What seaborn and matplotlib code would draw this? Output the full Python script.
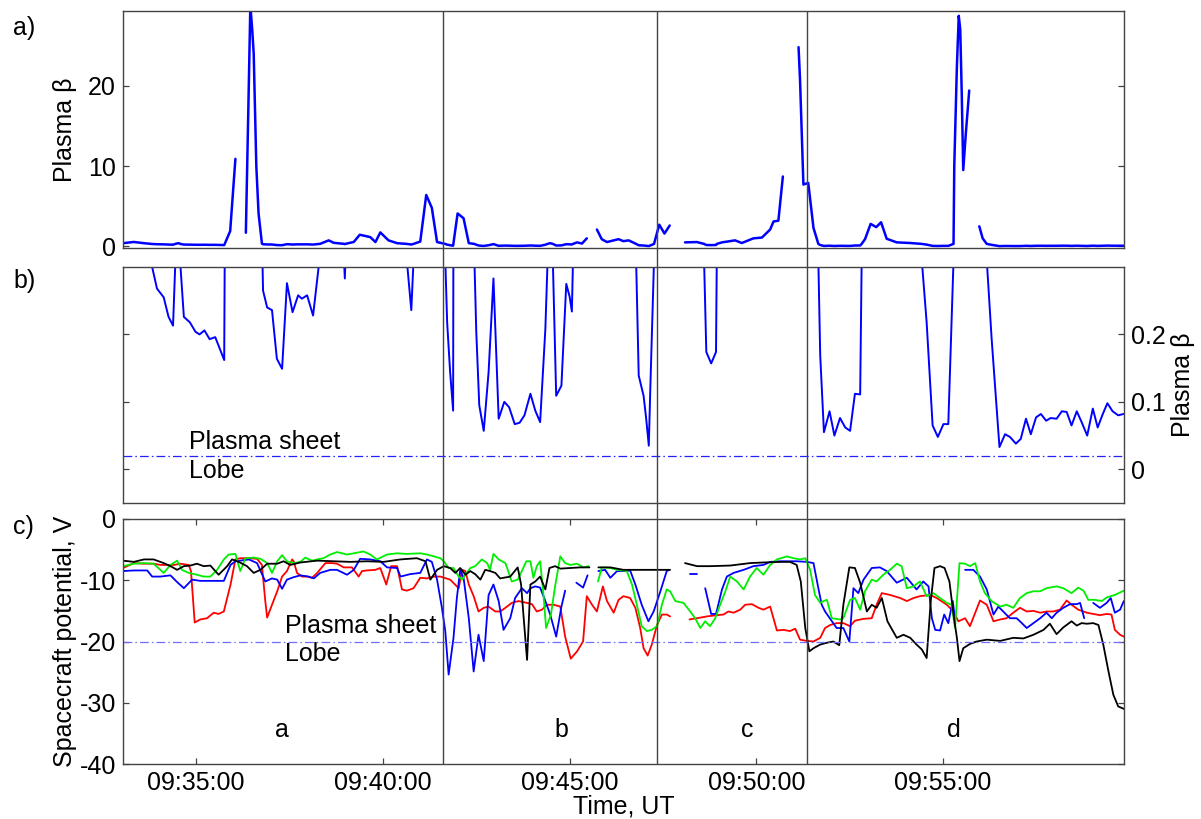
import numpy as np
import pandas as pd
import matplotlib
matplotlib.use('Agg')
import matplotlib.pyplot as plt
import seaborn as sns

nan = np.nan

# time in minutes after 09:00 UT, value
beta = [
    (33.04, 0.40), (33.33, 0.55), (33.60, 0.40), (33.82, 0.30), (33.95, 0.268), (34.13, 0.255),
    (34.26, 0.226), (34.38, 0.213), (34.47, 0.35), (34.53, 0.40), (34.58, 0.30), (34.67, 0.226),
    (34.83, 0.218), (34.98, 0.204), (35.09, 0.200), (35.22, 0.206), (35.36, 0.193), (35.51, 0.196),
    (35.75, 0.162), (35.91, 1.9), (36.05, 10.9), (36.18, nan),
    (36.33, 1.7), (36.40, 18.0), (36.45, 30.0), (36.50, 27.0), (36.54, 24.0), (36.61, 10.0),
    (36.67, 4.1), (36.76, 0.35), (36.79, 0.265), (36.90, 0.240), (37.03, 0.236), (37.16, 0.164),
    (37.30, 0.149), (37.43, 0.276), (37.58, 0.233), (37.73, 0.258), (37.83, 0.253), (37.97, 0.258),
    (38.13, 0.228), (38.32, 0.32), (38.55, 0.75), (38.68, 0.45), (38.95, 0.32), (38.98, 0.283),
    (39.01, 0.33), (39.22, 0.55), (39.38, 1.45), (39.66, 1.16), (39.80, 0.54), (39.93, 1.74),
    (40.15, 0.75), (40.38, 0.40), (40.64, 0.31), (40.76, 0.236), (40.82, 0.31), (41.00, 0.6),
    (41.16, 6.4), (41.31, 4.8), (41.45, 0.54), (41.67, 0.31), (41.72, 0.218), (41.80, 0.144),
    (41.88, 0.087), (42.00, 4.1), (42.16, 3.5), (42.30, 0.40), (42.45, 0.31), (42.50, 0.204),
    (42.58, 0.095), (42.70, 0.057), (42.83, 0.144), (42.96, 0.283), (43.10, 0.075), (43.25, 0.100),
    (43.38, 0.092), (43.53, 0.067), (43.66, 0.069), (43.79, 0.080), (43.95, 0.112), (44.08, 0.087),
    (44.21, 0.070), (44.35, 0.208), (44.41, 0.31), (44.48, 0.40), (44.55, 0.31), (44.64, 0.109),
    (44.78, 0.124), (44.91, 0.275), (45.00, 0.256), (45.06, 0.234), (45.09, 0.31), (45.20, 0.50),
    (45.33, 0.35), (45.46, 1.0), (45.60, nan),
    (45.73, 2.1), (45.86, 0.9), (46.00, 0.54), (46.31, 0.9), (46.44, 0.65), (46.58, 0.75),
    (46.78, 0.31), (46.85, 0.139), (46.98, 0.109), (47.05, 0.075), (47.12, 0.035), (47.16, 0.119),
    (47.26, 0.31), (47.40, 2.7), (47.54, 1.6), (47.68, 2.6), (47.87, nan),
    (48.09, 0.50), (48.41, 0.54), (48.60, 0.31), (48.66, 0.174), (48.79, 0.157), (48.92, 0.174),
    (48.94, 0.31), (49.08, 0.50), (49.43, 0.75), (49.61, 0.42), (49.92, 1.0), (50.15, 1.1),
    (50.37, 2.1), (50.46, 3.1), (50.59, 3.2), (50.71, 8.7), (50.90, nan),
    (51.13, 24.8), (51.17, 20.7), (51.26, 7.7), (51.39, 7.9), (51.53, 2.3), (51.66, 0.31),
    (51.71, 0.169), (51.81, 0.055), (51.96, 0.086), (52.09, 0.050), (52.24, 0.076), (52.38, 0.062),
    (52.51, 0.057), (52.64, 0.112), (52.78, 0.111), (52.82, 0.31), (52.91, 0.9), (53.06, 2.8),
    (53.21, 2.4), (53.34, 3.0), (53.49, 0.95), (53.76, 0.50), (54.12, 0.42), (54.43, 0.31),
    (54.56, 0.218), (54.72, 0.065), (54.86, 0.048), (55.01, 0.067), (55.14, 0.067), (55.28, 0.31),
    (55.30, 10.0), (55.37, 22.4), (55.42, 28.7), (55.46, 27.0), (55.50, 19.0), (55.54, 9.5),
    (55.61, 14.1), (55.70, 19.4), (55.81, nan),
    (55.97, 2.5), (56.06, 1.0), (56.17, 0.31), (56.30, 0.194), (56.51, 0.033), (56.66, 0.052),
    (56.79, 0.048), (56.95, 0.038), (57.08, 0.045), (57.22, 0.075), (57.35, 0.052), (57.49, 0.077),
    (57.62, 0.082), (57.76, 0.072), (57.88, 0.076), (58.04, 0.075), (58.18, 0.086), (58.31, 0.085),
    (58.44, 0.065), (58.58, 0.086), (58.71, 0.070), (58.86, 0.050), (59.01, 0.090), (59.14, 0.062),
    (59.27, 0.081), (59.40, 0.098), (59.54, 0.086), (59.69, 0.080), (59.83, 0.082),
]

pot_red = [
    (33.04, -8.0), (33.33, -7.2), (33.60, -7.3), (33.86, -7.3), (34.04, -7.5), (34.22, -7.5),
    (34.40, -7.5), (34.58, -7.3), (34.80, -7.5), (34.86, -8.5), (34.96, -16.9), (35.11, -16.4),
    (35.29, -16.2), (35.47, -15.3), (35.60, -15.5), (35.74, -15.1), (35.92, -10.7), (36.05, -6.6),
    (36.18, -6.4), (36.41, -6.4), (36.63, -6.5), (36.76, -7.5), (36.85, -13.4), (36.90, -16.1),
    (37.03, -14.0), (37.17, -11.8), (37.30, -9.4), (37.43, -8.5), (37.57, -6.6), (37.61, -6.9),
    (37.70, -8.8), (37.83, -9.4), (37.97, -9.4), (38.10, -9.6), (38.24, -8.8), (38.46, -7.2),
    (38.64, -7.2), (38.77, -7.3), (38.95, -7.9), (39.17, -7.9), (39.35, -9.4), (39.44, -8.5),
    (39.57, -8.4), (39.80, -8.3), (39.93, -8.0), (40.09, -10.7), (40.22, -7.7), (40.38, -7.7),
    (40.51, -11.5), (40.64, -11.7), (40.82, -11.3), (41.00, -9.6), (41.18, -9.7), (41.36, -9.4),
    (41.54, -9.4), (41.80, -9.9), (42.03, -11.3), (42.12, -8.3), (42.21, -8.5), (42.30, -10.7),
    (42.43, -12.6), (42.56, -15.1), (42.70, -14.5), (42.83, -14.3), (43.01, -15.1), (43.14, -15.1),
    (43.28, -14.5), (43.45, -13.7), (43.63, -13.4), (43.86, -13.7), (43.99, -13.9), (44.12, -15.1),
    (44.26, -14.8), (44.39, -14.0), (44.57, -14.0), (44.75, -14.3), (44.88, -19.2), (45.03, -22.8),
    (45.20, -21.6), (45.36, -20.0), (45.46, -12.6), (45.60, -14.0), (45.73, -15.1), (45.89, -11.0),
    (46.00, -13.4), (46.18, -15.3), (46.31, -13.2), (46.44, -12.6), (46.62, -12.9), (46.76, -14.5),
    (46.89, -17.8), (46.98, -21.1), (47.09, -22.3), (47.20, -20.5), (47.34, -17.3), (47.47, -15.6),
    (47.60, -15.6), (47.69, -15.9), (47.90, nan),
    (48.21, -16.4), (48.41, -16.2), (48.68, -15.9), (48.94, -15.7), (49.12, -15.6), (49.25, -15.1),
    (49.39, -15.3), (49.57, -14.8), (49.70, -14.0), (49.88, -13.9), (50.06, -14.5), (50.19, -14.8),
    (50.37, -14.3), (50.55, -18.2), (50.73, -18.1), (50.90, -18.3), (51.04, -17.9), (51.17, -19.7),
    (51.35, -19.9), (51.53, -20.0), (51.71, -19.4), (51.84, -17.8), (51.98, -17.3), (52.15, -17.0),
    (52.33, -17.0), (52.51, -17.5), (52.64, -16.6), (52.87, -16.3), (53.09, -16.2), (53.22, -14.0),
    (53.36, -12.1), (53.58, -12.4), (53.85, -12.9), (54.03, -13.4), (54.21, -12.9), (54.38, -12.6),
    (54.65, -12.4), (54.83, -12.9), (55.10, -14.0), (55.28, -15.1), (55.41, -16.7), (55.59, -16.2),
    (55.72, -17.5), (55.99, -13.3), (56.17, -14.0), (56.35, -16.7), (56.53, -16.4), (56.70, -16.2),
    (56.88, -15.3), (57.06, -14.5), (57.24, -15.1), (57.42, -15.0), (57.60, -15.3), (57.77, -15.1),
    (57.95, -15.1), (58.13, -14.8), (58.31, -13.3), (58.44, -14.0), (58.62, -14.8), (58.85, -15.3),
    (59.02, -15.5), (59.20, -15.7), (59.38, -15.5), (59.51, -15.6), (59.60, -18.1), (59.74, -18.9),
    (59.84, -19.2),
]

pot_blue = [
    (33.04, -8.5), (33.33, -8.4), (33.69, -8.4), (33.82, -9.4), (34.04, -9.4), (34.31, -9.2),
    (34.49, -10.3), (34.67, -11.3), (34.89, -9.9), (35.11, -10.1), (35.47, -10.1), (35.74, -10.1),
    (35.92, -7.5), (36.05, -6.9), (36.18, -6.8), (36.41, -6.6), (36.63, -7.2), (36.85, -10.2),
    (37.03, -9.7), (37.17, -9.9), (37.30, -11.4), (37.43, -9.9), (37.61, -9.5), (37.79, -9.2),
    (38.01, -9.4), (38.15, -9.7), (38.32, -8.8), (38.59, -8.3), (38.77, -8.3), (39.04, -9.1),
    (39.22, -8.3), (39.39, -6.5), (39.66, -6.6), (39.93, -6.9), (40.11, -7.9), (40.38, -8.0),
    (40.47, -9.4), (40.73, -9.0), (41.00, -8.8), (41.18, -6.6), (41.31, -7.0), (41.45, -9.9),
    (41.58, -14.5), (41.67, -18.3), (41.76, -25.4), (41.89, -19.4), (41.98, -12.9), (42.07, -8.3),
    (42.16, -9.6), (42.30, -16.2), (42.43, -24.9), (42.56, -18.9), (42.70, -23.2), (42.83, -12.4),
    (42.96, -10.7), (43.10, -13.4), (43.23, -18.1), (43.41, -16.2), (43.54, -12.9), (43.72, -11.3),
    (43.86, -12.1), (43.95, -11.3), (44.08, -11.0), (44.21, -11.2), (44.35, -13.4), (44.48, -15.6),
    (44.64, -19.2), (44.78, -14.3), (44.88, -11.7), (45.00, nan),
    (45.18, -10.4), (45.36, -11.2), (45.48, -9.2), (45.60, nan),
    (45.77, -8.5), (45.95, -8.3), (46.09, -9.6), (46.27, -8.5), (46.49, -8.5), (46.62, -8.4),
    (46.76, -10.7), (46.93, -14.0), (47.11, -16.7), (47.25, -15.1), (47.43, -11.8), (47.60, -8.5),
    (47.67, -8.3), (47.90, nan),
    (48.23, -9.0), (48.41, -9.0), (48.50, nan),
    (48.63, -11.3), (48.79, -15.5), (48.92, -15.5), (49.08, -11.5), (49.21, -9.4), (49.39, -8.8),
    (49.66, -8.3), (49.92, -7.7), (50.19, -7.5), (50.37, -7.0), (50.64, -6.9), (51.08, -6.9),
    (51.35, -7.0), (51.53, -7.2), (51.66, -11.3), (51.75, -14.0), (51.84, -15.1), (52.15, -17.8),
    (52.33, -17.8), (52.49, -20.0), (52.60, -11.3), (52.73, -12.1), (52.87, -9.9), (53.09, -8.0),
    (53.31, -7.9), (53.49, -8.5), (53.76, -10.4), (54.03, -9.6), (54.29, -11.5), (54.47, -10.2),
    (54.61, -11.0), (54.70, -16.2), (54.79, -18.1), (54.92, -18.2), (55.03, -15.6), (55.14, -17.0),
    (55.26, -13.4), (55.32, -16.4), (55.45, nan),
    (55.59, -8.3), (55.81, -8.3), (55.99, -9.4), (56.17, -11.5), (56.35, -15.6), (56.48, -14.3),
    (56.61, -15.1), (56.79, -16.2), (56.97, -16.2), (57.11, -17.0), (57.24, -17.8), (57.42, -17.0),
    (57.60, -16.2), (57.77, -15.3), (57.91, -16.2), (58.04, -15.3), (58.22, -14.5), (58.40, -13.9),
    (58.58, -13.9), (58.67, -13.7), (58.78, -16.2), (58.90, nan),
    (59.02, -13.7), (59.20, -14.5), (59.38, -13.7), (59.49, -12.9), (59.60, -15.3), (59.74, -14.8),
    (59.84, -13.4),
]

pot_green = [
    (33.04, -7.7), (33.33, -7.3), (33.60, -7.2), (33.86, -7.3), (34.13, -8.8), (34.31, -7.5),
    (34.49, -6.8), (34.62, -8.3), (34.80, -8.8), (35.02, -9.1), (35.20, -9.4), (35.38, -9.4),
    (35.56, -8.3), (35.74, -6.6), (35.87, -5.8), (36.05, -5.7), (36.18, -8.5), (36.32, -6.4),
    (36.54, -6.3), (36.72, -6.5), (36.90, -7.2), (37.03, -8.8), (37.17, -6.9), (37.30, -5.9),
    (37.43, -6.9), (37.61, -7.2), (37.79, -7.0), (37.92, -6.3), (38.10, -6.8), (38.24, -6.6),
    (38.41, -6.4), (38.59, -5.8), (38.77, -5.4), (39.04, -5.8), (39.22, -5.6), (39.48, -5.3),
    (39.66, -5.8), (39.84, -6.6), (40.11, -5.8), (40.38, -5.6), (40.64, -5.7), (41.00, -5.6),
    (41.18, -5.8), (41.36, -6.1), (41.54, -6.4), (41.63, -6.9), (41.76, -8.0), (41.89, -8.0),
    (42.03, -9.4), (42.12, -9.9), (42.21, -9.1), (42.34, -8.0), (42.47, -7.7), (42.65, -6.6),
    (42.79, -7.2), (42.87, -8.3), (42.96, -5.7), (43.10, -6.6), (43.28, -7.2), (43.45, -10.2),
    (43.61, -9.9), (43.72, -8.5), (43.84, -6.9), (43.95, -6.9), (44.03, -9.6), (44.12, -7.7),
    (44.21, -6.9), (44.30, -12.4), (44.37, -17.8), (44.50, -15.6), (44.61, -11.0), (44.75, -6.1),
    (44.88, -7.2), (45.02, -7.5), (45.20, -7.3), (45.37, -7.9), (45.51, -7.7), (45.62, nan),
    (45.76, -10.2), (45.86, -7.9), (46.09, -8.0), (46.27, -8.3), (46.53, -8.5), (46.67, -10.7),
    (46.80, -14.0), (46.93, -17.5), (47.07, -18.3), (47.20, -18.1), (47.34, -17.5), (47.47, -14.0),
    (47.60, -11.5), (47.69, -11.8), (47.83, -13.4), (48.05, -13.7), (48.23, -15.1), (48.36, -16.2),
    (48.50, -17.8), (48.63, -16.7), (48.76, -17.5), (48.90, -16.2), (49.03, -14.0), (49.17, -11.8),
    (49.30, -9.4), (49.48, -10.2), (49.66, -11.5), (49.83, -9.4), (50.01, -8.0), (50.19, -9.1),
    (50.37, -7.5), (50.55, -6.6), (50.82, -6.1), (50.99, -6.4), (51.17, -6.6), (51.31, -6.4),
    (51.44, -8.3), (51.57, -12.4), (51.71, -13.7), (51.80, -13.4), (51.89, -13.2), (52.02, -16.2),
    (52.24, -16.4), (52.33, -16.2), (52.51, -13.2), (52.64, -12.9), (52.78, -14.8), (52.91, -11.8),
    (53.09, -9.9), (53.22, -10.2), (53.40, -9.1), (53.58, -8.3), (53.76, -7.3), (53.89, -7.7),
    (54.03, -11.3), (54.21, -11.0), (54.38, -10.2), (54.56, -12.6), (54.74, -12.1), (54.92, -12.9),
    (55.10, -13.7), (55.23, -14.0), (55.32, -17.8), (55.44, -7.2), (55.59, -7.3), (55.72, -7.7),
    (55.86, -7.2), (55.99, -10.2), (56.12, -12.1), (56.30, -13.4), (56.53, -14.3), (56.70, -14.0),
    (56.88, -14.5), (57.06, -12.9), (57.24, -12.1), (57.42, -11.8), (57.60, -11.8), (57.77, -11.3),
    (58.04, -11.0), (58.22, -11.3), (58.44, -12.1), (58.62, -11.2), (58.76, -11.7), (58.89, -13.2),
    (59.07, -13.2), (59.25, -13.4), (59.38, -12.8), (59.60, -12.4), (59.84, -11.7),
]

pot_black = [
    (33.04, -6.8), (33.33, -7.0), (33.60, -6.6), (33.86, -6.6), (34.13, -7.2), (34.31, -7.7),
    (34.49, -8.3), (34.67, -7.7), (34.84, -7.6), (35.02, -7.3), (35.20, -7.7), (35.38, -7.6),
    (35.60, -9.1), (35.83, -7.7), (35.96, -6.6), (36.14, -7.0), (36.36, -7.7), (36.54, -8.8),
    (36.72, -8.3), (36.90, -7.3), (37.17, -7.3), (37.34, -6.9), (37.52, -7.5), (37.79, -7.1),
    (38.24, -6.8), (38.68, -6.9), (39.13, -7.0), (39.57, -6.9), (40.02, -7.0), (40.47, -6.6),
    (40.91, -6.4), (41.14, -6.9), (41.27, -9.9), (41.45, -8.3), (41.63, -7.7), (41.80, -8.0),
    (41.94, -8.8), (42.07, -8.0), (42.21, -9.1), (42.34, -8.5), (42.47, -9.0), (42.61, -9.9),
    (42.74, -8.3), (42.87, -8.5), (43.01, -8.8), (43.14, -9.7), (43.41, -9.4), (43.61, -7.9),
    (43.70, -10.7), (43.77, -16.2), (43.86, -23.0), (43.95, -10.7), (44.08, -10.2), (44.21, -9.4),
    (44.35, -11.5), (44.46, -8.0), (44.61, -7.7), (44.75, -8.1), (45.02, -8.0), (45.28, -7.9),
    (45.53, -7.9), (45.65, nan),
    (45.77, -7.9), (46.09, -7.9), (46.44, -8.3), (46.80, -8.3), (47.34, -8.3), (47.69, -8.3),
    (47.90, nan),
    (48.09, -7.2), (48.41, -7.7), (48.76, -7.7), (49.30, -7.6), (49.83, -7.2), (50.19, -7.1),
    (50.64, -7.0), (50.90, -7.0), (51.08, -7.5), (51.19, -10.2), (51.31, -17.8), (51.42, -21.6),
    (51.53, -21.1), (51.71, -20.5), (51.89, -20.2), (52.06, -20.0), (52.22, -20.6), (52.33, -14.0),
    (52.49, -7.9), (52.64, -8.0), (52.78, -10.4), (52.96, -15.1), (53.09, -14.0), (53.22, -14.5),
    (53.36, -12.9), (53.51, -16.7), (53.76, -19.4), (53.94, -18.9), (54.12, -19.4), (54.29, -20.5),
    (54.43, -21.3), (54.56, -22.7), (54.67, -13.4), (54.77, -8.0), (54.92, -7.7), (55.04, -8.0),
    (55.17, -10.2), (55.28, -15.6), (55.37, -19.4), (55.44, -23.2), (55.54, -21.1), (55.72, -20.4),
    (55.90, -20.0), (56.17, -19.7), (56.53, -19.9), (56.88, -19.4), (57.15, -19.5), (57.42, -18.9),
    (57.69, -18.1), (57.86, -17.1), (58.04, -18.8), (58.22, -17.7), (58.44, -16.7), (58.58, -17.4),
    (58.71, -17.0), (58.85, -17.1), (59.02, -17.0), (59.16, -17.3), (59.29, -20.5), (59.43, -24.9),
    (59.56, -28.7), (59.69, -30.6), (59.84, -31.0),
]

# interval boundaries and their labels
boundaries = [41.60, 47.35, 51.35]
interval_names = ['a', 'b', 'c', 'd']
interval_pos = [37.30, 44.79, 49.75, 55.30]

time_ticks = [35, 40, 45, 50, 55]
time_labels = ['09:35:00', '09:40:00', '09:45:00', '09:50:00', '09:55:00']
beta_a_ticks = [0, 10, 20]
beta_b_ticks = [0, 0.1, 0.2]
beta_b_labels = ['0', '0.1', '0.2']
pot_ticks = [0, -10, -20, -30, -40]

beta_limit = 0.02
pot_limit = -20


def frame(points):
    df = pd.DataFrame(points, columns=['t', 'v'])
    df['seg'] = df['v'].isna().cumsum()
    return df.dropna()


def draw(ax, points, color, lw):
    sns.lineplot(data=frame(points), x='t', y='v', units='seg', estimator=None,
                 color=color, linewidth=lw, ax=ax, legend=False, sort=False)


sns.set_theme(style='white')
plt.rcParams['font.family'] = ['Liberation Sans', 'DejaVu Sans']
plt.rcParams['font.size'] = 18
plt.rcParams['axes.unicode_minus'] = False
plt.rcParams['text.color'] = 'black'
plt.rcParams['axes.labelcolor'] = 'black'

W, H = 1201, 819
fig = plt.figure(figsize=(W / 100, H / 100), dpi=100)

left, right = 123, 1124


def box(top, bottom):
    return [left / W, 1 - bottom / H, (right - left) / W, (bottom - top) / H]


ax_a = fig.add_axes(box(11, 248))
ax_b = fig.add_axes(box(267, 503))
ax_c = fig.add_axes(box(519, 764))
xlim = (33.04, 59.845)

edge = '#444444'
for ax in (ax_a, ax_b, ax_c):
    ax.set_xlim(*xlim)
    for s in ax.spines.values():
        s.set_color(edge)
        s.set_linewidth(1.0)
    ax.tick_params(direction='in', length=4, width=0.9, color=edge,
                   labelsize=18, pad=5, labelcolor='black')

# a) plasma beta
draw(ax_a, beta, '#0000ff', 1.8)
ax_a.set_ylim(-0.2, 29.3)
ax_a.set_yticks(beta_a_ticks)
ax_a.set_yticklabels([str(v) for v in beta_a_ticks])
ax_a.set_xticks([])
ax_a.tick_params(axis='y', left=True, right=True)
ax_a.set_xlabel('')
ax_a.set_ylabel('Plasma β', fontsize=18, color='black')
ax_a.yaxis.set_label_coords(-0.046, 0.5)

# b) plasma beta, zoomed
draw(ax_b, beta, '#0000ff', 1.4)
ax_b.axhline(beta_limit, color='#2222ff', lw=0.9, dashes=(7, 2.5, 1.2, 2.5))
ax_b.set_ylim(-0.05, 0.3)
ax_b.set_yticks(beta_b_ticks)
ax_b.set_yticklabels(beta_b_labels)
ax_b.set_xticks([])
ax_b.tick_params(axis='y', left=True, right=True, labelleft=False, labelright=True)
ax_b.set_xlabel('')
ax_b.set_ylabel('Plasma β', fontsize=18, color='black')
ax_b.yaxis.set_label_position('right')
ax_b.text(34.80, 0.030, 'Plasma sheet', fontsize=18, va='baseline', color='black')
ax_b.text(34.80, -0.0134, 'Lobe', fontsize=18, va='baseline', color='black')

# c) spacecraft potential
draw(ax_c, pot_red, '#ff0000', 1.3)
draw(ax_c, pot_blue, '#0000ff', 1.3)
draw(ax_c, pot_green, '#00ee00', 1.3)
draw(ax_c, pot_black, '#000000', 1.3)
ax_c.axhline(pot_limit, color='#6f6fff', lw=0.9, dashes=(7, 2.5, 1.2, 2.5))
ax_c.set_ylim(-40, 0)
ax_c.set_yticks(pot_ticks)
ax_c.set_yticklabels([str(v) for v in pot_ticks])
ax_c.set_xticks(time_ticks)
ax_c.set_xticklabels(time_labels)
ax_c.tick_params(axis='both', top=True, bottom=True, left=True, right=True)
ax_c.set_xlabel('Time, UT', fontsize=18, labelpad=0, color='black')
ax_c.set_ylabel('Spacecraft potential, V', fontsize=18, color='black')
ax_c.yaxis.set_label_coords(-0.046, 0.5)
ax_c.text(37.39, -18.6, 'Plasma sheet', fontsize=18, va='baseline', color='black')
ax_c.text(37.39, -23.2, 'Lobe', fontsize=18, va='baseline', color='black')
for name, pos in zip(interval_names, interval_pos):
    ax_c.text(pos, -35.6, name, fontsize=18, ha='center', va='baseline', color='black')

# boundaries crossing all three panels
ax_v = fig.add_axes([left / W, 1 - 764 / H, (right - left) / W, (764 - 11) / H])
ax_v.set_xlim(*xlim)
ax_v.set_ylim(0, 1)
ax_v.axis('off')
ax_v.patch.set_alpha(0)
for b in boundaries:
    ax_v.axvline(b, color=edge, lw=1.0)

fig.text(13 / W, 1 - 28 / H, 'a)', fontsize=18, va='center', color='black')
fig.text(13 / W, 1 - 281 / H, 'b)', fontsize=18, va='center', color='black')
fig.text(13 / W, 1 - 527 / H, 'c)', fontsize=18, va='center', color='black')

fig.savefig('out.png', dpi=100)
